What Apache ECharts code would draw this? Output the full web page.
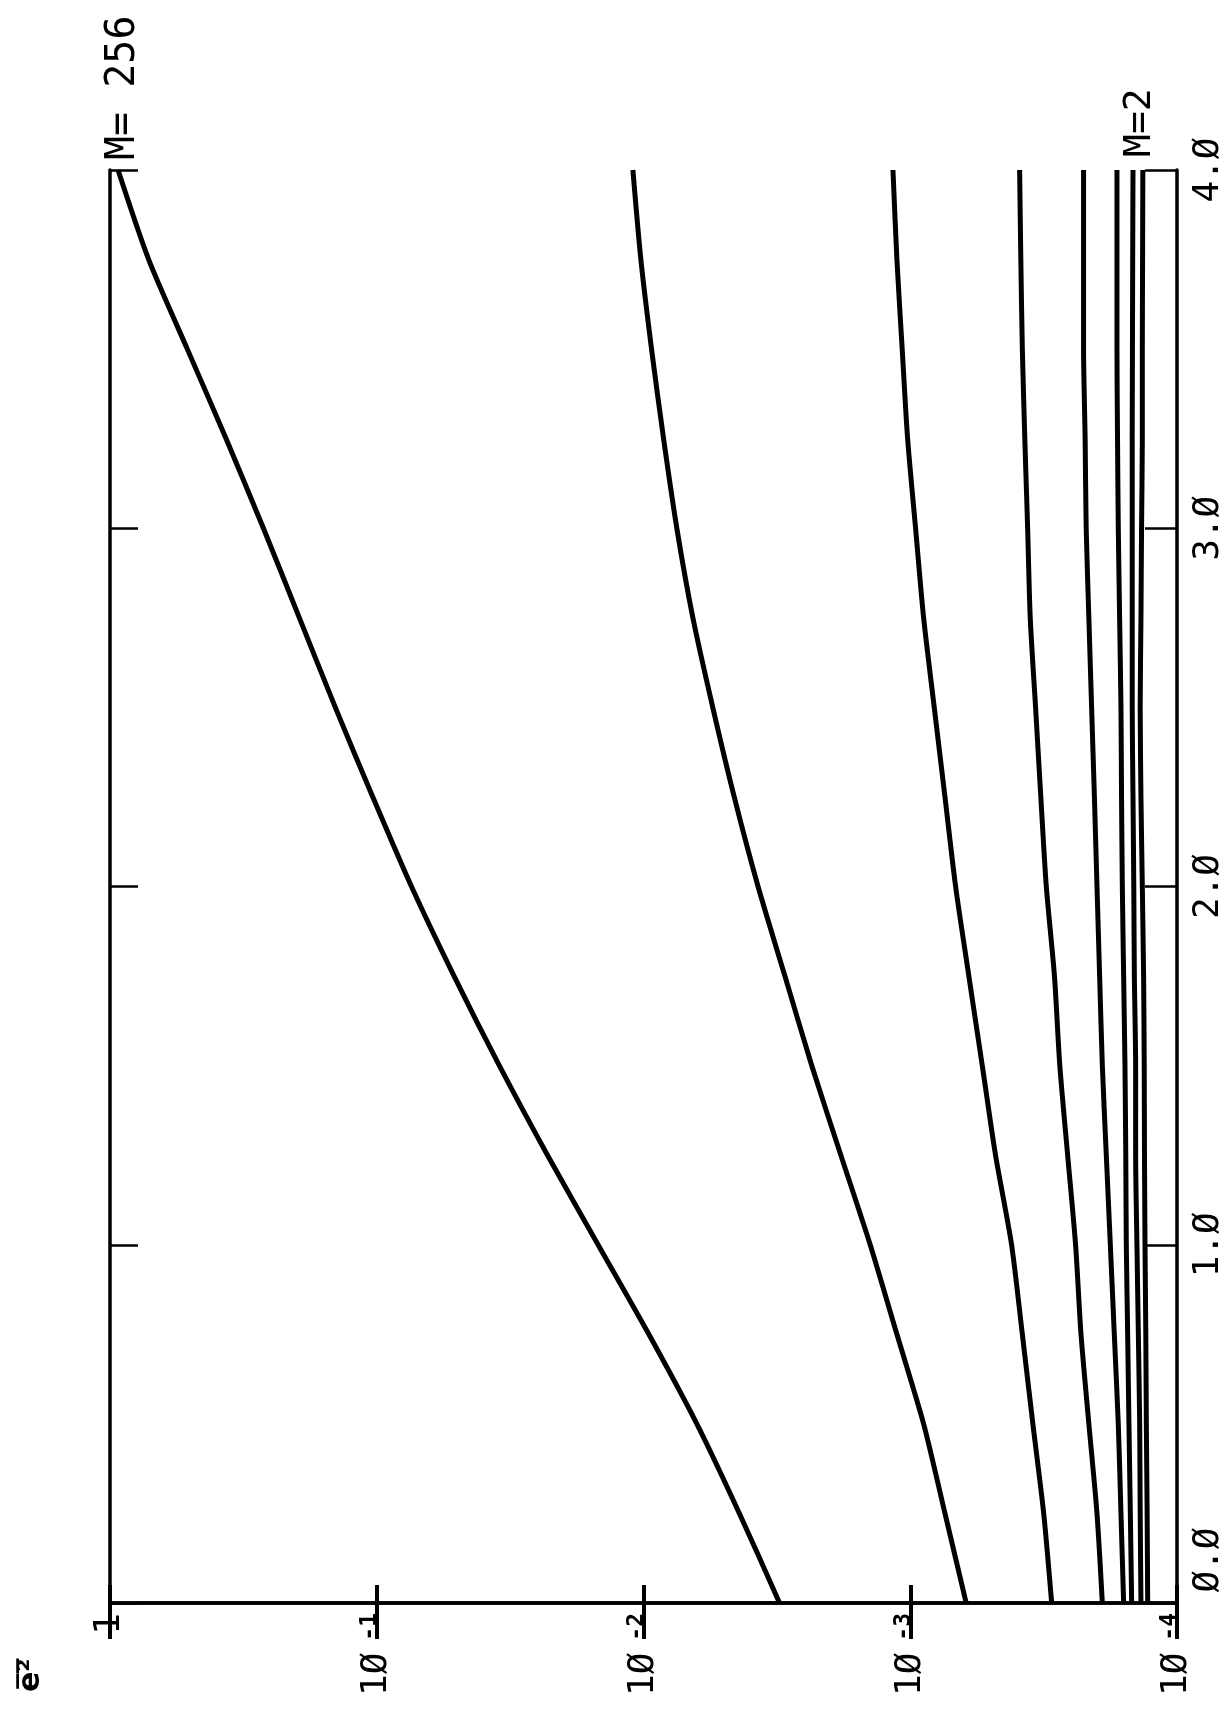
<!DOCTYPE html>
<html>
<head>
<meta charset="utf-8">
<script src="https://cdn.jsdelivr.net/npm/echarts@6/dist/echarts.min.js"></script>
<style>
  html, body { margin: 0; padding: 0; background: #ffffff; }
  #chart { width: 1225px; height: 1711px; }
</style>
</head>
<body>
<div id="chart"></div>
<script>
// Parameter values along the vertical (0 .. 4) axis
const tValues = [0, 0.25, 0.5, 0.75, 1, 1.25, 1.5, 1.75, 2, 2.25, 2.5, 2.75, 3, 3.25, 3.5, 3.75, 4];

// Mean-square error for each M
const errM256 = [3.09e-3, 4.37e-3, 6.31e-3, 9.55e-3, 1.48e-2, 2.29e-2, 3.47e-2, 5.13e-2, 7.41e-2, 0.1035, 0.143, 0.195, 0.266, 0.367, 0.513, 0.716, 0.933];
const errM128 = [6.17e-4, 7.41e-4, 8.91e-4, 1.122e-3, 1.413e-3, 1.82e-3, 2.34e-3, 2.95e-3, 3.72e-3, 4.57e-3, 5.50e-3, 6.53e-3, 7.50e-3, 8.41e-3, 9.33e-3, 1.023e-2, 1.096e-2];
const errM64  = [2.95e-4, 3.16e-4, 3.47e-4, 3.80e-4, 4.17e-4, 4.79e-4, 5.37e-4, 6.03e-4, 6.76e-4, 7.41e-4, 8.13e-4, 8.91e-4, 9.55e-4, 1.023e-3, 1.072e-3, 1.122e-3, 1.161e-3];
const errM32  = [1.905e-4, 1.995e-4, 2.14e-4, 2.29e-4, 2.40e-4, 2.57e-4, 2.75e-4, 2.88e-4, 3.09e-4, 3.24e-4, 3.39e-4, 3.55e-4, 3.63e-4, 3.72e-4, 3.80e-4, 3.85e-4, 3.89e-4];
const errM16  = [1.585e-4, 1.622e-4, 1.66e-4, 1.718e-4, 1.778e-4, 1.841e-4, 1.905e-4, 1.95e-4, 1.995e-4, 2.04e-4, 2.09e-4, 2.14e-4, 2.19e-4, 2.21e-4, 2.24e-4, 2.24e-4, 2.24e-4];
const errM8   = [1.479e-4, 1.496e-4, 1.514e-4, 1.531e-4, 1.549e-4, 1.556e-4, 1.567e-4, 1.585e-4, 1.603e-4, 1.614e-4, 1.622e-4, 1.641e-4, 1.660e-4, 1.671e-4, 1.679e-4, 1.679e-4, 1.679e-4];
const errM4   = [1.365e-4, 1.374e-4, 1.380e-4, 1.396e-4, 1.413e-4, 1.429e-4, 1.429e-4, 1.445e-4, 1.452e-4, 1.462e-4, 1.472e-4, 1.472e-4, 1.472e-4, 1.472e-4, 1.469e-4, 1.466e-4, 1.462e-4];
const errM2   = [1.288e-4, 1.294e-4, 1.303e-4, 1.309e-4, 1.318e-4, 1.324e-4, 1.327e-4, 1.334e-4, 1.349e-4, 1.365e-4, 1.374e-4, 1.365e-4, 1.358e-4, 1.349e-4, 1.349e-4, 1.346e-4, 1.343e-4];

const seriesNames = ['M=256', 'M=128', 'M=64', 'M=32', 'M=16', 'M=8', 'M=4', 'M=2'];
const seriesValues = [errM256, errM128, errM64, errM32, errM16, errM8, errM4, errM2];

// Tick labels
const logTicks = [1, 1e-1, 1e-2, 1e-3, 1e-4];
const logTickBase = ['1', '1Ø', '1Ø', '1Ø', '1Ø'];
const logTickExp = ['', '-1', '-2', '-3', '-4'];
const tTickLabels = ['Ø.Ø', '1.Ø', '2.Ø', '3.Ø', '4.Ø'];

const MONO = '"DejaVu Sans Mono", monospace';

const chart = echarts.init(document.getElementById('chart'), null, { renderer: 'canvas' });

const logAxisCommon = {
  type: 'log',
  logBase: 10,
  min: 1e-4,
  max: 1,
  inverse: true,
  splitLine: { show: false },
  axisLine: { show: true, lineStyle: { color: '#000', width: 3.5 } }
};

const tAxisCommon = {
  type: 'value',
  min: 0,
  max: 4,
  interval: 1,
  splitLine: { show: false },
  axisLine: { show: true, lineStyle: { color: '#000', width: 3.5 } }
};

chart.setOption({
  animation: false,
  backgroundColor: '#ffffff',
  grid: {
    left: 110, right: 48, top: 170, bottom: 108,
    containLabel: false,
    outerBoundsMode: 'none'
  },
  xAxis: [
    Object.assign({}, logAxisCommon, {
      position: 'bottom',
      axisTick: { show: true, inside: true, length: 18, lineStyle: { color: '#000', width: 4 } },
      axisLabel: {
        show: true,
        rotate: 90,
        margin: 10,
        color: '#000',
        fontFamily: MONO,
        fontSize: 36,
        showMinLabel: true,
        showMaxLabel: true,
        formatter: function (v) {
          const i = logTicks.findIndex(d => Math.abs(Math.log10(d) - Math.log10(v)) < 1e-6);
          if (i < 0) return '';
          return logTickExp[i]
            ? '{b|' + logTickBase[i] + '}{s|' + logTickExp[i] + '}'
            : '{b|' + logTickBase[i] + '}';
        },
        rich: {
          b: { fontFamily: MONO, fontSize: 36, lineHeight: 36, color: '#000' },
          s: { fontFamily: MONO, fontSize: 23, lineHeight: 23, fontWeight: 'bold', verticalAlign: 'top', padding: [0, 0, 0, 12], color: '#000' }
        }
      }
    }),
    Object.assign({}, logAxisCommon, {
      position: 'top',
      axisTick: { show: true, inside: true, length: 36, lineStyle: { color: '#000', width: 4 } },
      axisLabel: { show: false }
    })
  ],
  yAxis: [
    Object.assign({}, tAxisCommon, {
      position: 'right',
      axisTick: { show: true, inside: true, length: 32, lineStyle: { color: '#000', width: 2.5 } },
      axisLabel: {
        show: true,
        rotate: 90,
        margin: 14,
        color: '#000',
        fontFamily: MONO,
        fontSize: 36,
        showMinLabel: true,
        showMaxLabel: true,
        formatter: function (v) {
          const i = Math.round(v);
          return i === 0 ? '{z|' + tTickLabels[i] + '}' : '{n|' + tTickLabels[i] + '}';
        },
        rich: {
          n: { fontFamily: MONO, fontSize: 36, color: '#000' },
          z: { fontFamily: MONO, fontSize: 36, color: '#000', padding: [0, 0, 0, 86] }
        }
      }
    }),
    Object.assign({}, tAxisCommon, {
      position: 'left',
      axisTick: { show: true, inside: true, length: 28, lineStyle: { color: '#000', width: 2.5 } },
      axisLabel: { show: false }
    })
  ],
  series: seriesValues.map((vals, k) => ({
    name: seriesNames[k],
    type: 'line',
    xAxisIndex: 0,
    yAxisIndex: 0,
    showSymbol: false,
    smooth: 0.25,
    lineStyle: { color: '#000', width: 5, join: 'round', cap: 'butt' },
    data: tValues.map((t, i) => [vals[i], t])
  })),
  graphic: [
    {
      type: 'text', x: 124, y: 160, rotation: Math.PI / 2,
      style: { text: 'M= 256', font: '40px ' + MONO, fill: '#000', textAlign: 'left', textVerticalAlign: 'middle', align: 'left', verticalAlign: 'middle' }
    },
    {
      type: 'text', x: 1140, y: 157, rotation: Math.PI / 2,
      style: { text: 'M=2', font: '38px ' + MONO, fill: '#000', textAlign: 'left', textVerticalAlign: 'middle', align: 'left', verticalAlign: 'middle' }
    },
    {
      type: 'text', x: 31, y: 1692, rotation: Math.PI / 2,
      style: { text: 'e\u0305\u00B2\u0305', font: 'bold 30px "DejaVu Sans"', fill: '#000', textAlign: 'left', textVerticalAlign: 'middle', align: 'left', verticalAlign: 'middle' }
    }
  ]
});
</script>
</body>
</html>
